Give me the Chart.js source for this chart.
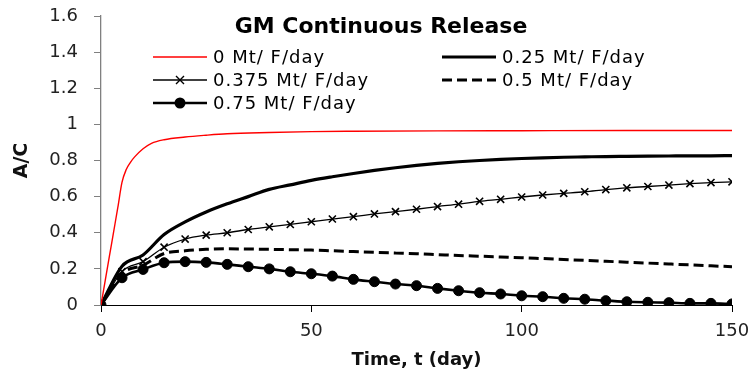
<!DOCTYPE html>
<html>
<head>
<meta charset="utf-8">
<script src="https://cdn.jsdelivr.net/npm/chart.js@4.4.0/dist/chart.umd.min.js"></script>
<style>
  html, body { margin: 0; padding: 0; background: #fff; }
  canvas { display: block; }
</style>
</head>
<body>
<canvas id="chart" width="753" height="374"></canvas>
<script>
// time axis (days)
const days = [0, 5, 10, 15, 20, 25, 30, 35, 40, 45, 50, 55, 60, 65, 70, 75,
    80, 85, 90, 95, 100, 105, 110, 115, 120, 125, 130, 135, 140, 145, 150];
const redDays = [0, 1, 2, 3, 4, 5, 6, 7, 8, 10, 12, 15, 20, 25, 30, 40, 50,
    60, 80, 100, 125, 150];

// A/C values
const rate0 = [0, 0.135, 0.27, 0.405, 0.54, 0.68, 0.75, 0.79, 0.82, 0.865, 0.895,
    0.915, 0.93, 0.94, 0.948, 0.955, 0.96, 0.962, 0.964, 0.965, 0.966, 0.966];
const rate025 = [0, 0.215, 0.277, 0.39, 0.46, 0.515, 0.56, 0.6, 0.64, 0.665, 0.69,
    0.71, 0.728, 0.745, 0.76, 0.773, 0.784, 0.793, 0.8, 0.806, 0.811, 0.815,
    0.818, 0.82, 0.822, 0.823, 0.824, 0.825, 0.826, 0.826, 0.827];
const rate0375 = [0, 0.185, 0.24, 0.32, 0.365, 0.387, 0.4, 0.418, 0.433, 0.446, 0.461,
    0.476, 0.489, 0.504, 0.517, 0.53, 0.545, 0.558, 0.574, 0.585, 0.598, 0.609,
    0.618, 0.627, 0.639, 0.649, 0.656, 0.664, 0.672, 0.678, 0.682];
const rate05 = [0, 0.175, 0.22, 0.285, 0.3, 0.308, 0.311, 0.31, 0.308, 0.306, 0.304,
    0.3, 0.296, 0.292, 0.288, 0.284, 0.279, 0.274, 0.27, 0.266, 0.262, 0.257,
    0.252, 0.247, 0.242, 0.237, 0.232, 0.227, 0.222, 0.217, 0.212];
const rate075 = [0, 0.151, 0.197, 0.234, 0.24, 0.236, 0.225, 0.212, 0.2, 0.184, 0.173,
    0.16, 0.142, 0.129, 0.116, 0.107, 0.092, 0.079, 0.068, 0.061, 0.051, 0.046,
    0.037, 0.032, 0.024, 0.018, 0.015, 0.013, 0.009, 0.009, 0.006];

const seriesNames = ['0 Mt/ F/day', '0.25 Mt/ F/day', '0.375 Mt/ F/day',
    '0.5 Mt/ F/day', '0.75 Mt/ F/day'];
const xTicks = [0, 50, 100, 150];
const yTicks = ['0', '0.2', '0.4', '0.6', '0.8', '1', '1.2', '1.4', '1.6'];

const chartTitle = 'GM Continuous Release';

function pts(xs, ys) {
    return xs.map((x, i) => ({ x: x, y: ys[i] }));
}

const datasets = [
    {
        label: seriesNames[0],
        data: pts(redDays, rate0),
        borderColor: '#ff0000',
        borderWidth: 1.4,
        pointRadius: 0,
    },
    {
        label: seriesNames[1],
        data: pts(days, rate025),
        borderColor: '#000',
        borderWidth: 3.2,
        pointRadius: 0,
    },
    {
        label: seriesNames[2],
        data: pts(days, rate0375),
        borderColor: '#000',
        borderWidth: 1.3,
        pointStyle: 'crossRot',
        pointRadius: 5,
        pointBorderWidth: 1.6,
        pointBorderColor: '#000',
    },
    {
        label: seriesNames[3],
        data: pts(days, rate05),
        borderColor: '#000',
        borderWidth: 3,
        borderDash: [10, 5],
        pointRadius: 0,
    },
    {
        label: seriesNames[4],
        data: pts(days, rate075),
        borderColor: '#000',
        borderWidth: 2.6,
        pointStyle: 'circle',
        pointRadius: 5,
        pointBackgroundColor: '#000',
        pointBorderColor: '#000',
        pointBorderWidth: 1,
    }
];

// title + two-column legend drawn inside the plot, like the original
const insideLegend = {
    id: 'insideLegend',
    afterDraw(chart) {
        const ctx = chart.ctx;
        ctx.save();
        ctx.fillStyle = '#000';
        ctx.textBaseline = 'middle';

        ctx.font = 'bold 22px "DejaVu Sans"';
        ctx.textAlign = 'center';
        ctx.fillText(chartTitle, 381, 27);

        ctx.font = '18px "DejaVu Sans"';
        ctx.textAlign = 'left';
        if ('letterSpacing' in ctx) ctx.letterSpacing = '1px';

        const slots = [
            { x: 153, y: 57 }, { x: 442, y: 57 },
            { x: 153, y: 80 }, { x: 442, y: 80 },
            { x: 153, y: 103 }
        ];
        chart.data.datasets.forEach((ds, i) => {
            const s = slots[i];
            const len = 54;
            ctx.beginPath();
            ctx.strokeStyle = ds.borderColor;
            ctx.lineWidth = ds.borderWidth;
            ctx.setLineDash(ds.borderDash || []);
            ctx.moveTo(s.x, s.y);
            ctx.lineTo(s.x + len, s.y);
            ctx.stroke();
            ctx.setLineDash([]);
            const cx = s.x + len / 2;
            if (ds.pointStyle === 'crossRot') {
                ctx.lineWidth = 1.4;
                const r = 5;
                ctx.beginPath();
                ctx.moveTo(cx - r * 0.8, s.y - r * 0.8);
                ctx.lineTo(cx + r * 0.8, s.y + r * 0.8);
                ctx.moveTo(cx - r * 0.8, s.y + r * 0.8);
                ctx.lineTo(cx + r * 0.8, s.y - r * 0.8);
                ctx.stroke();
            } else if (ds.pointStyle === 'circle') {
                ctx.beginPath();
                ctx.arc(cx, s.y, 5.5, 0, Math.PI * 2);
                ctx.fill();
            }
            ctx.fillText(ds.label, s.x + len + 6, s.y + 1);
        });
        ctx.restore();
    }
};

const whiteBg = {
    id: 'whiteBg',
    beforeDraw(chart) {
        const ctx = chart.ctx;
        ctx.save();
        ctx.fillStyle = '#fff';
        ctx.fillRect(0, 0, chart.width, chart.height);
        ctx.restore();
    }
};

new Chart(document.getElementById('chart'), {
    type: 'line',
    data: { datasets: datasets },
    options: {
        responsive: false,
        animation: false,
        layout: { padding: { top: 16, right: 21, left: 0, bottom: 0 } },
        elements: { line: { cubicInterpolationMode: 'monotone' } },
        plugins: {
            legend: { display: false },
            tooltip: { enabled: false },
        },
        scales: {
            x: {
                type: 'linear',
                min: 0,
                max: 150,
                afterFit: (s) => {
                    s.height = 69;
                    s.paddingLeft = 0;
                    s.paddingRight = 0;
                },
                afterBuildTicks: (s) => { s.ticks = xTicks.map(v => ({ value: v })); },
                grid: { drawOnChartArea: false, tickLength: 7, color: '#000' },
                border: { color: '#000', width: 1 },
                ticks: {
                    padding: 9,
                    color: '#222',
                    font: { family: 'DejaVu Sans', size: 18 },
                    callback: (v) => String(v),
                },
                title: {
                    display: true,
                    text: 'Time, t (day)',
                    color: '#111',
                    font: { family: 'DejaVu Sans', size: 18, weight: 'bold' },
                    padding: { top: 0, bottom: 3 },
                },
            },
            y: {
                min: 0,
                max: 1.6,
                afterFit: (s) => {
                    s.width = 101;
                    s.paddingTop = 0;
                    s.paddingBottom = 0;
                },
                afterBuildTicks: (s) => { s.ticks = yTicks.map(t => ({ value: parseFloat(t) })); },
                grid: { drawOnChartArea: false, tickLength: 7, color: '#808080' },
                border: { color: '#808080', width: 1.3 },
                ticks: {
                    padding: 16,
                    color: '#222',
                    font: { family: 'DejaVu Sans', size: 18 },
                    callback: (v) => yTicks[yTicks.findIndex(t => Math.abs(parseFloat(t) - v) < 1e-6)],
                },
                title: {
                    display: true,
                    text: 'A/C',
                    color: '#111',
                    font: { family: 'DejaVu Sans', size: 19, weight: 'bold' },
                    padding: { top: 11, bottom: 0 },
                },
            }
        }
    },
    plugins: [whiteBg, insideLegend]
});
</script>
</body>
</html>
